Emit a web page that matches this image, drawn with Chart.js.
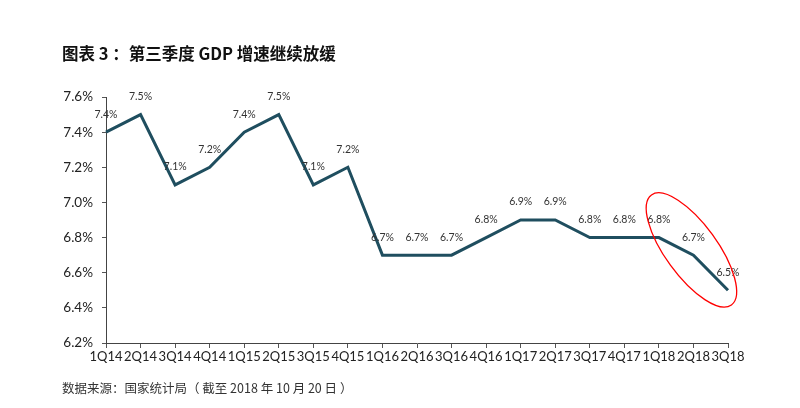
<!DOCTYPE html>
<html>
<head>
<meta charset="utf-8">
<script src="https://cdn.jsdelivr.net/npm/chart.js@4.4.1/dist/chart.umd.min.js"></script>
<style>
  html, body { margin: 0; padding: 0; background: #fff; }
  #wrap { position: relative; width: 800px; height: 408px; }
  #title {
    position: absolute; left: 62px; top: 41px;
    font: bold 16.5px "Noto Sans CJK SC", sans-serif; color: #111;
  }
  #source {
    position: absolute; left: 62px; top: 378px;
    font: 12.5px "Noto Sans CJK SC", sans-serif; color: #333;
  }
  canvas { position: absolute; left: 0; top: 0; }
</style>
</head>
<body>
<div id="wrap">
  <canvas id="chart" width="800" height="408"></canvas>
  <div id="title">图表 3 ：第三季度 GDP 增速继续放缓</div>
  <div id="source">数据来源：国家统计局（ 截至 2018 年 10 月 20 日 ）</div>
</div>
<script>
const quarters = ['1Q14', '2Q14', '3Q14', '4Q14', '1Q15', '2Q15', '3Q15', '4Q15', '1Q16', '2Q16',
  '3Q16', '4Q16', '1Q17', '2Q17', '3Q17', '4Q17', '1Q18', '2Q18', '3Q18'];
const gdpGrowth = [7.4, 7.5, 7.1, 7.2, 7.4, 7.5, 7.1, 7.2, 6.7, 6.7,
  6.7, 6.8, 6.9, 6.9, 6.8, 6.8, 6.8, 6.7, 6.5];
const yTicks = [6.2, 6.4, 6.6, 6.8, 7.0, 7.2, 7.4, 7.6];
const circled = ['1Q18', '3Q18'];

// value labels above each point
const valueLabels = {
  id: 'valueLabels',
  afterDatasetsDraw(chart) {
    const ctx = chart.ctx;
    const meta = chart.getDatasetMeta(0);
    ctx.save();
    ctx.font = '10.5px Lato, sans-serif';
    ctx.fillStyle = '#333';
    ctx.textAlign = 'center';
    ctx.textBaseline = 'middle';
    meta.data.forEach((pt, i) => {
      ctx.fillText(gdpGrowth[i].toFixed(1) + '%', pt.x, pt.y - 18);
    });
    ctx.restore();
  }
};

// red ellipse round the last quarters
const highlight = {
  id: 'highlight',
  afterDatasetsDraw(chart) {
    const { ctx, scales: { x, y } } = chart;
    const i0 = quarters.indexOf(circled[0]);
    const i1 = quarters.indexOf(circled[1]);
    const x0 = x.getPixelForValue(i0), x1 = x.getPixelForValue(i1);
    const y0 = y.getPixelForValue(gdpGrowth[i0]), y1 = y.getPixelForValue(gdpGrowth[i1]);
    const cx = (x0 + x1) / 2 - 2;
    const cy = (y0 + y1) / 2 - 14;
    ctx.save();
    ctx.strokeStyle = '#ff0000';
    ctx.lineWidth = 1.3;
    ctx.beginPath();
    ctx.ellipse(cx, cy, 68, 26, 54 * Math.PI / 180, 0, Math.PI * 2);
    ctx.stroke();
    ctx.restore();
  }
};

new Chart(document.getElementById('chart'), {
  type: 'line',
  data: {
    labels: quarters,
    datasets: [{
      data: gdpGrowth,
      borderColor: '#1f4e5f',
      borderWidth: 3,
      pointRadius: 0,
      tension: 0,
      fill: false
    }]
  },
  options: {
    responsive: false,
    animation: false,
    layout: { padding: { left: 0, top: 97, right: 72, bottom: 0 } },
    plugins: {
      legend: { display: false },
      tooltip: { enabled: false }
    },
    scales: {
      x: {
        offset: false,
        afterFit(scale) { scale.height = 65; },
        border: { display: true, color: '#444', width: 1 },
        grid: { display: true, drawOnChartArea: false, drawTicks: true, tickLength: 5, color: '#555' },
        ticks: {
          autoSkip: false, maxRotation: 0, padding: 1,
          color: '#222', font: { family: 'Lato, sans-serif', size: 13 }
        }
      },
      y: {
        min: yTicks[0],
        max: yTicks[yTicks.length - 1],
        afterFit(scale) { scale.width = 106; },
        afterBuildTicks(scale) { scale.ticks = yTicks.map(v => ({ value: v })); },
        border: { display: true, color: '#444', width: 1 },
        grid: { display: true, drawOnChartArea: false, drawTicks: true, tickLength: 4, color: '#555' },
        ticks: {
          padding: 9,
          color: '#222',
          font: { family: 'Lato, sans-serif', size: 13.5 },
          callback: v => v.toFixed(1) + '%'
        }
      }
    }
  },
  plugins: [valueLabels, highlight]
});
</script>
</body>
</html>
